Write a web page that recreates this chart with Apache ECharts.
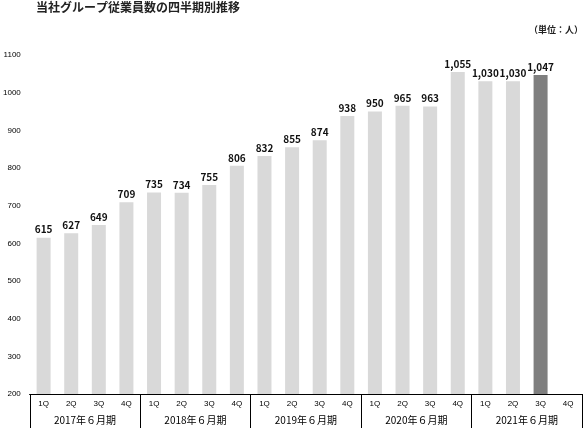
<!DOCTYPE html>
<html>
<head>
<meta charset="utf-8">
<script src="https://cdn.jsdelivr.net/npm/echarts@6/dist/echarts.min.js"></script>
<style>html,body{margin:0;padding:0;background:#fff;}#c{width:585px;height:428px;}</style>
</head>
<body>
<div id="c"></div>
<script>
var quarters = ['1Q','2Q','3Q','4Q','1Q','2Q','3Q','4Q','1Q','2Q','3Q','4Q','1Q','2Q','3Q','4Q','1Q','2Q','3Q','4Q'];
var years = ['2017年６月期','2018年６月期','2019年６月期','2020年６月期','2021年６月期'];
var employees = [615,627,649,709,735,734,755,806,832,855,874,938,950,965,963,1055,1030,1030,1047,null];
var highlightIndex = 18;
var yTicks = {min:200, max:1100, interval:100};

var chart = echarts.init(document.getElementById('c'));
var font = '"Noto Sans CJK JP", "Liberation Sans", sans-serif';
chart.setOption({
  animation:false,
  backgroundColor:'#fff',
  title:[
    {text:'当社グループ従業員数の四半期別推移', left:31, top:-4, textStyle:{fontSize:12, fontWeight:'bold', color:'#222', fontFamily:font}},
    {text:'（単位：人）', right:-3, top:20, textStyle:{fontSize:9, fontWeight:'bold', color:'#222', fontFamily:font}}
  ],
  grid:{left:26, right:3, top:55, bottom:34},
  xAxis:[
    {type:'category', data:quarters, position:'bottom',
     axisLine:{show:true, lineStyle:{color:'#000', width:1}},
     axisTick:{show:false},
     axisLabel:{fontSize:8, color:'#000', margin:6, fontFamily:'"Liberation Sans", sans-serif'}},
    {type:'category', data:years, position:'bottom',
     axisLine:{show:true, lineStyle:{color:'#000', width:1}},
     axisTick:{show:true, length:34, lineStyle:{color:'#000', width:1}},
     axisLabel:{fontSize:10, color:'#000', margin:21, fontFamily:font}}
  ],
  yAxis:{type:'value', min:yTicks.min, max:yTicks.max, interval:yTicks.interval,
    axisLine:{show:false}, axisTick:{show:false}, splitLine:{show:false},
    axisLabel:{fontSize:8, color:'#000', margin:9, fontFamily:'"Liberation Sans", sans-serif',
      formatter:function(v){ return String(v); }}},
  series:[{
    type:'bar', xAxisIndex:0, barWidth:14,
    data:employees.map(function(v,i){
      return {value:v, itemStyle:{color: i===highlightIndex ? '#7f7f7f' : '#d9d9d9'}};
    }),
    label:{show:true, position:'top', distance:3, fontSize:10, fontWeight:'bold', color:'#111', fontFamily:font,
      formatter:function(p){ return p.value==null ? '' : p.value.toLocaleString('en-US'); }}
  }]
});
</script>
</body>
</html>
